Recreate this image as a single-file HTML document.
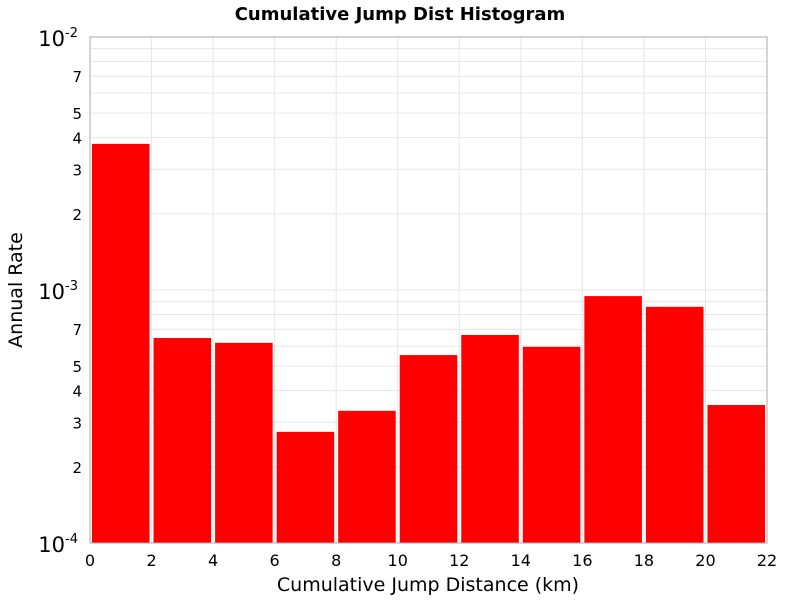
<!DOCTYPE html>
<html><head><meta charset="utf-8"><style>
body{margin:0;background:#fff;}
svg text{font-family:"DejaVu Sans","Liberation Sans",sans-serif;}
</style></head><body>
<svg id="chart" width="800" height="600">
<rect width="800" height="600" fill="#fff"/>
<text x="400" y="20" text-anchor="middle" font-size="18" font-weight="bold">Cumulative Jump Dist Histogram</text>
<g id="grid"></g><g id="bars"></g><g id="axes"></g>
<text x="596" y="0" transform="translate(22,290) rotate(-90)" x2="0" text-anchor="middle" font-size="19" id="ytitle">Annual Rate</text>
<text x="428" y="591" text-anchor="middle" font-size="19">Cumulative Jump Distance (km)</text>
</svg>
<script>
const binStarts=[0,2,4,6,8,10,12,14,16,18,20];
const rates=[3.78e-3,6.46e-4,6.18e-4,2.75e-4,3.33e-4,5.53e-4,6.64e-4,5.96e-4,9.46e-4,8.58e-4,3.51e-4];
const binWidth=2;
const xTicks=[0,2,4,6,8,10,12,14,16,18,20,22];
const yMinor=[2,3,4,5,7];
const L=90,R=767,T=37,B=543,X0=0,X1=22,LMIN=-4,LMAX=-2;
const ns="http://www.w3.org/2000/svg";
document.getElementById('ytitle').setAttribute('x','0');
function xs(v){return L+(v-X0)/(X1-X0)*(R-L);}
function ys(v){return B-(Math.log10(v)-LMIN)/(LMAX-LMIN)*(B-T);}
function mk(t,a,p){const e=document.createElementNS(ns,t);for(const k in a)e.setAttribute(k,a[k]);p.appendChild(e);return e;}
const grid=document.getElementById('grid'),bars=document.getElementById('bars'),axes=document.getElementById('axes');
for(let d=LMIN;d<LMAX;d++){for(let m=1;m<10;m++){const v=m*Math.pow(10,d);const y=ys(v);
 const g=mk('line',{x1:L,x2:R,y1:y,y2:y,stroke:'#e6e6e6','stroke-width':1},grid);
 
 
 if(yMinor.includes(m)){const t=mk('text',{x:82,y:y+6,'text-anchor':'end','font-size':15},axes);t.textContent=m;
  
  }
}}
for(let d=LMIN;d<=LMAX;d++){const y=ys(Math.pow(10,d));
 const t=mk('text',{x:78,y:y+9,'text-anchor':'end','font-size':21},axes);
 
 
 t.innerHTML='10<tspan dy="-9" font-size="13">'+d+'</tspan>';}
xTicks.forEach(v=>{const x=xs(v);
 const g=mk('line',{x1:x,x2:x,y1:T,y2:B,stroke:'#e6e6e6'},grid);
 
 
 const t=mk('text',{x:x,y:566,'text-anchor':'middle','font-size':16},axes);t.textContent=v;
 
 });
rates.forEach((r,i)=>{const x0=xs(binStarts[i]),x1=xs(binStarts[i]+binWidth);const y=ys(r);
 const b=mk('rect',{x:x0+2,y:y,width:x1-x0-4,height:B-y,fill:'#ff0000'},bars);
 
 });
const f=mk('rect',{x:L,y:T,width:R-L,height:B-T,fill:'none',stroke:'#aaa'},axes);


</script>
</body></html>
